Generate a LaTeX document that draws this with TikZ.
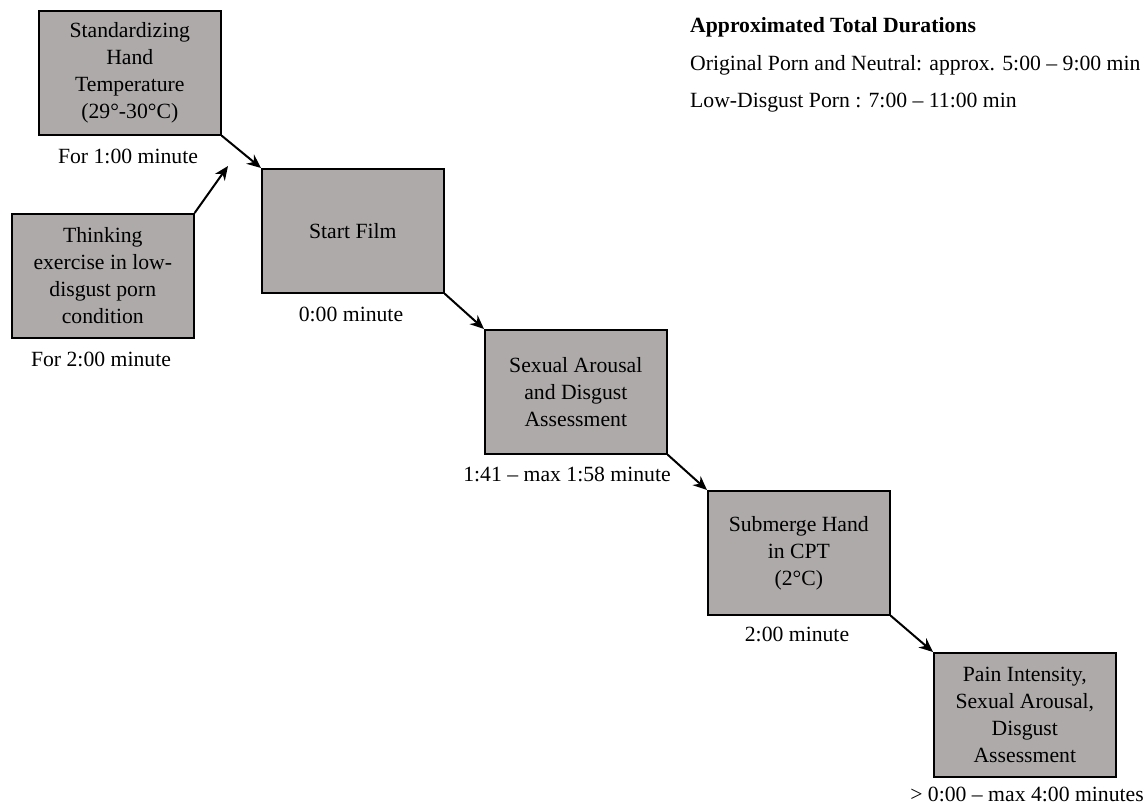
\documentclass[tikz,border=0pt]{standalone}
\usepackage{fontspec}
\setmainfont{Liberation Serif}
\usetikzlibrary{arrows.meta}
\definecolor{boxgray}{RGB}{174,170,170}
\begin{document}
\begin{tikzpicture}[x=1pt,y=-1pt,
  every node/.style={font=\fontsize{21.7}{27}\selectfont},
  stepbox/.style={draw=black, line width=1.6pt, fill=boxgray, minimum width=182pt, minimum height=124pt, align=center, inner sep=0pt, anchor=north west},
  lbl/.style={inner sep=0pt},
  conn/.style={line width=2pt, -{Stealth[length=14pt,width=12pt]}}
]
\useasboundingbox (0,0) rectangle (1146,805);
\node[stepbox] (temp) at (38,10) {Standardizing\\Hand\\Temperature\\(29°-30°C)};
\node[stepbox] (think) at (11,213) {Thinking\\exercise in low-\\disgust porn\\condition};
\node[stepbox] (film) at (261,168) {Start Film};
\node[stepbox] (assess) at (484,329) {Sexual Arousal\\and Disgust\\Assessment};
\node[stepbox] (cpt) at (707,490) {Submerge Hand\\in CPT\\(2°C)};
\node[stepbox] (pain) at (933,652) {Pain Intensity,\\Sexual Arousal,\\Disgust\\Assessment};
\coordinate (thinkend) at (228,166);
\node[lbl] (l1) at (128,156) {For 1:00 minute};
\node[lbl] (l2) at (101,359) {For 2:00 minute};
\node[lbl] (l3) at (351,314) {0:00 minute};
\node[lbl] (l4) at (567,474) {1:41 – max 1:58 minute};
\node[lbl] (l5) at (797,634) {2:00 minute};
\node[lbl] (l6) at (1027,794) {> 0:00 – max 4:00 minutes};
\node[lbl, anchor=west] (t1) at (690,27) {\bfseries Approximated Total Durations};
\node[lbl, anchor=west] (t2) at (690,65) {Original Porn and Neutral: approx. 5:00 – 9:00 min};
\node[lbl, anchor=west] (t3) at (690,103) {Low-Disgust Porn : 7:00 – 11:00 min};
\draw[conn] (temp.south east) -- (film.north west);
\draw[conn] (think.north east) -- (thinkend);
\draw[conn] (film.south east) -- (assess.north west);
\draw[conn] (assess.south east) -- (cpt.north west);
\draw[conn] (cpt.south east) -- (pain.north west);
\end{tikzpicture}
\end{document}
